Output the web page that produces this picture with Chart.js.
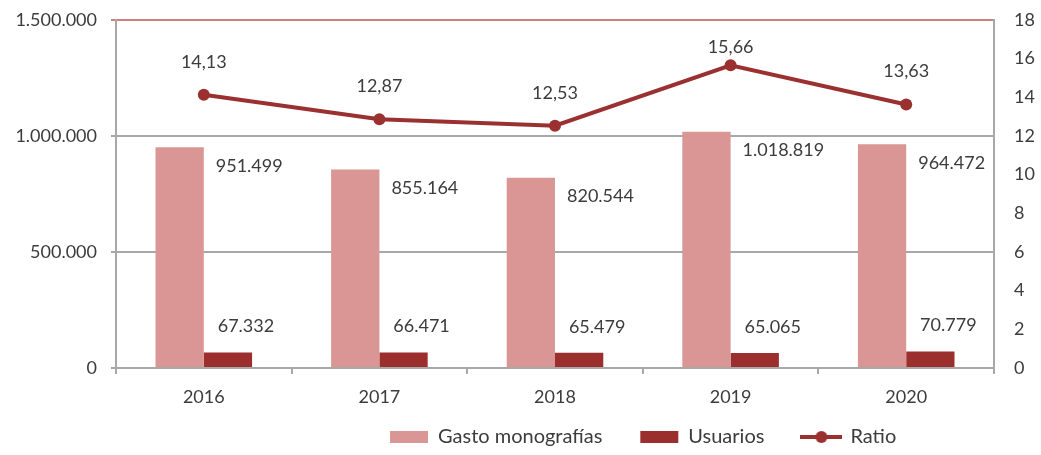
<!DOCTYPE html>
<html><head><meta charset="utf-8">
<script src="https://cdn.jsdelivr.net/npm/chart.js@4.4.1/dist/chart.umd.min.js"></script>
<style>html,body{margin:0;padding:0;background:#fff}</style>
</head><body>
<canvas id="c" width="1041" height="455"></canvas>
<script>
// ---- data ----
const years = ['2016', '2017', '2018', '2019', '2020'];
const gasto = [951499, 855164, 820544, 1018819, 964472];
const usuarios = [67332, 66471, 65479, 65065, 70779];
const ratio = [14.13, 12.87, 12.53, 15.66, 13.63];
const seriesNames = ['Gasto monografías', 'Usuarios', 'Ratio'];
const leftAxis = { min: 0, max: 1500000, step: 500000 };
const rightAxis = { min: 0, max: 18, step: 2 };

// ---- style ----
const PINK = '#d99694';
const DARK = '#9a2f2e';
const LINE = '#9b3030';
const TOPLINE = '#cf7f7f';
const GRID = '#a8a8a8';
const TEXT = '#3c3c3c';
const FONT = 'Lato';
const LEGEND_PAD = 38;
const LEGEND_FONT = 20;

function fmtThousands(v) {
  return String(Math.round(v)).replace(/\B(?=(\d{3})+(?!\d))/g, '.');
}
function fmtRatio(v) {
  return v.toFixed(2).replace('.', ',');
}

Chart.defaults.font.family = FONT;
Chart.defaults.font.size = 18;
Chart.defaults.color = TEXT;

// legend marker for the line series
const lineMarker = document.createElement('canvas');
lineMarker.width = 42; lineMarker.height = 14;
(function () {
  const g = lineMarker.getContext('2d');
  g.strokeStyle = LINE; g.lineWidth = 4;
  g.beginPath(); g.moveTo(0, 7); g.lineTo(42, 7); g.stroke();
  g.fillStyle = LINE; g.beginPath(); g.arc(21, 7, 6, 0, Math.PI * 2); g.fill();
})();

const valueLabels = {
  id: 'valueLabels',
  afterDatasetsDraw(chart) {
    const ctx = chart.ctx;
    ctx.save();
    ctx.font = '18px ' + FONT;
    ctx.fillStyle = TEXT;
    ctx.textBaseline = 'middle';
    chart.getDatasetMeta(0).data.forEach((el, i) => {
      ctx.textAlign = 'left';
      ctx.fillText(fmtThousands(gasto[i]), el.x + el.width / 2 + 12, el.y + 19);
    });
    chart.getDatasetMeta(1).data.forEach((el, i) => {
      ctx.textAlign = 'center';
      ctx.fillText(fmtThousands(usuarios[i]), el.x + 18, el.y - 26);
    });
    const top = chart.chartArea.top;
    chart.getDatasetMeta(2).data.forEach((el, i) => {
      ctx.textAlign = 'center';
      ctx.fillText(fmtRatio(ratio[i]), el.x, Math.max(el.y - 33, top + 27));
    });
    ctx.restore();
  }
};

const legendPlace = {
  id: 'legendPlace',
  beforeLayout(chart) {
    const l = chart.legend;
    if (l && !l._patched) {
      const orig = l.fit;
      l.fit = function () { orig.call(this); this.height = 37; };
      l._patched = true;
    }
  },
  afterLayout(chart) {
    const l = chart.legend;
    const dx = (390 - LEGEND_PAD) - l.left;
    l.left += dx; l.right += dx;
    const dy = (437 - LEGEND_PAD - LEGEND_FONT / 2) - l.top;
    l.top += dy;
    l.bottom = l.top + 120;
  }
};

function vPad(s) { s.paddingTop = 10; s.paddingBottom = 10; }

new Chart(document.getElementById('c'), {
  type: 'bar',
  data: {
    labels: years,
    datasets: [
      { label: seriesNames[0], data: gasto, backgroundColor: PINK, yAxisID: 'y', order: 1,
        categoryPercentage: 0.55, barPercentage: 1 },
      { label: seriesNames[1], data: usuarios, backgroundColor: DARK, yAxisID: 'y', order: 1,
        categoryPercentage: 0.55, barPercentage: 1 },
      { type: 'line', label: seriesNames[2], data: ratio, yAxisID: 'y1', order: 0,
        borderColor: LINE, backgroundColor: LINE, borderWidth: 4,
        pointRadius: 6, pointBackgroundColor: LINE, pointBorderWidth: 0, tension: 0 }
    ]
  },
  options: {
    responsive: false,
    animation: false,
    layout: { padding: { top: 20, left: 0, right: 0, bottom: 0 } },
    plugins: {
      tooltip: { enabled: false },
      legend: {
        position: 'bottom',
        align: 'start',
        labels: {
          usePointStyle: true,
          pointStyleWidth: 38,
          boxHeight: 12,
          padding: LEGEND_PAD,
          color: TEXT,
          font: { size: LEGEND_FONT, family: FONT },
          sort: (a, b) => a.datasetIndex - b.datasetIndex,
          generateLabels(chart) {
            const items = Chart.defaults.plugins.legend.labels.generateLabels(chart);
            items.forEach(it => {
              it.pointStyle = it.datasetIndex === 2 ? lineMarker : 'rect';
              it.lineWidth = 0;
            });
            return items;
          }
        }
      }
    },
    scales: {
      x: {
        offset: true,
        grid: { display: true, offset: true, drawOnChartArea: false, drawTicks: true, tickLength: 6, color: GRID, lineWidth: 2 },
        border: { display: true, color: GRID, width: 2 },
        ticks: { padding: 12, color: TEXT, font: { size: 18 } },
        afterFit(s) { s.height = 87 - s.chart.legend.height; }
      },
      y: {
        position: 'left',
        min: leftAxis.min, max: leftAxis.max,
        grid: {
          color: c => (c.tick && c.tick.value === leftAxis.max) ? TOPLINE : GRID,
          lineWidth: 2, tickLength: 5, drawTicks: true
        },
        border: { display: true, color: GRID, width: 2 },
        ticks: { stepSize: leftAxis.step, padding: 14, color: TEXT, font: { size: 18 },
          callback: v => fmtThousands(v) },
        afterFit(s) { s.width = 116; vPad(s); }
      },
      y1: {
        position: 'right',
        min: rightAxis.min, max: rightAxis.max,
        grid: { display: false, drawTicks: false },
        border: { display: true, color: GRID, width: 2 },
        ticks: { stepSize: rightAxis.step, padding: 20, color: TEXT, font: { size: 18 } },
        afterFit(s) { s.width = 47; vPad(s); }
      }
    }
  },
  plugins: [valueLabels, legendPlace]
});
</script>
</body></html>
